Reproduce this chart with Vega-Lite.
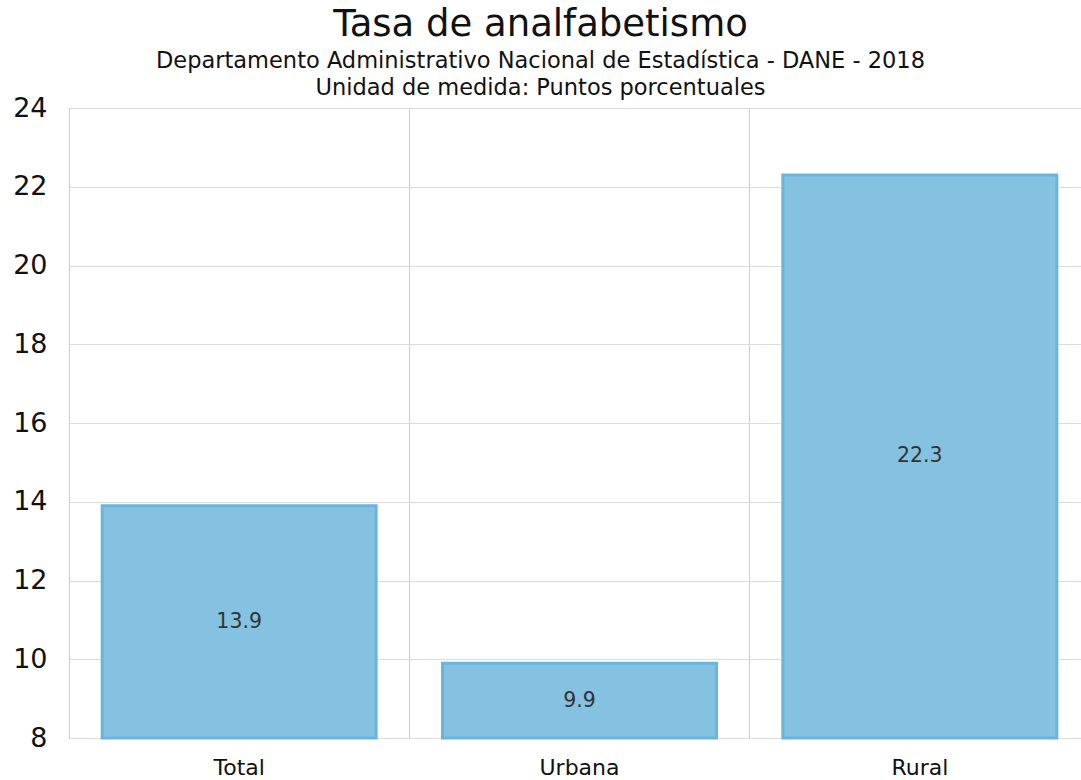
{
  "$schema": "https://vega.github.io/schema/vega-lite/v6.json",
  "width": 1021,
  "height": 630,
  "autosize": {"type": "none"},
  "padding": {"left": 69, "top": 108, "right": 0, "bottom": 42},
  "background": "white",
  "title": {
    "text": "Tasa de analfabetismo",
    "subtitle": ["Departamento Administrativo Nacional de Estadística - DANE - 2018", "Unidad de medida: Puntos porcentuales"],
    "anchor": "middle",
    "frame": "group",
    "dx": -39,
    "offset": -6,
    "font": "DejaVu Sans",
    "fontSize": 37,
    "fontWeight": "normal",
    "color": "#111111",
    "subtitleFont": "DejaVu Sans",
    "subtitleFontSize": 22.5,
    "subtitleColor": "#111111",
    "subtitleLineHeight": 27,
    "subtitlePadding": 6
  },
  "data": {
    "values": [
      {"zona": "Total", "v": 13.9},
      {"zona": "Urbana", "v": 9.9},
      {"zona": "Rural", "v": 22.3}
    ]
  },
  "encoding": {
    "x": {
      "field": "zona",
      "type": "nominal",
      "sort": null,
      "scale": {"paddingInner": 0, "paddingOuter": 0},
      "axis": {
        "title": null,
        "labelAngle": 0,
        "labelFont": "DejaVu Sans",
        "labelFontSize": 22,
        "labelColor": "#111111",
        "labelPadding": 19,
        "ticks": false,
        "domain": false,
        "grid": true,
        "bandPosition": 0,
        "gridColor": "#cccccc",
        "gridWidth": 1
      }
    }
  },
  "layer": [
    {
      "mark": {"type": "bar", "width": {"band": 0.805}, "fill": "#85C2E1", "stroke": "#6AB5DB", "strokeWidth": 3},
      "encoding": {
        "y": {
          "field": "v",
          "type": "quantitative",
          "scale": {"domain": [8, 24], "zero": false, "nice": false},
          "axis": {
            "title": null,
            "values": [8, 10, 12, 14, 16, 18, 20, 22, 24],
            "labelFont": "DejaVu Sans",
            "labelFontSize": 27,
            "labelColor": "#111111",
            "labelPadding": 22,
            "ticks": false,
            "domain": false,
            "grid": true,
            "gridColor": "#dddddd",
            "gridWidth": 1
          }
        },
        "y2": {"datum": 8}
      }
    },
    {
      "transform": [{"calculate": "(datum.v + 8) / 2", "as": "mid"}],
      "mark": {"type": "text", "font": "DejaVu Sans", "fontSize": 20.5, "color": "#333333", "baseline": "middle", "align": "center"},
      "encoding": {
        "y": {"field": "mid", "type": "quantitative"},
        "text": {"field": "v", "type": "quantitative", "format": ".1f"}
      }
    }
  ]
}
